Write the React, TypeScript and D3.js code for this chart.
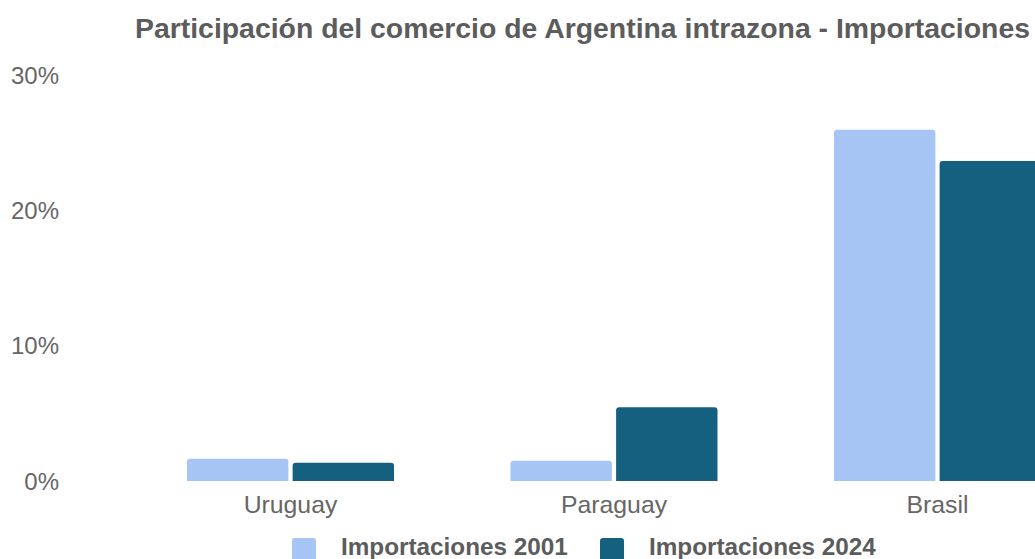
import React from "react";
import { scaleBand, scaleLinear } from "d3";

// valores (en %)
const categories = ["Uruguay", "Paraguay", "Brasil"];
const series = ["Importaciones 2001", "Importaciones 2024"];
const imports2001 = [1.65, 1.5, 25.95];
const imports2024 = [1.35, 5.45, 23.65];
const yTicks = [0, 10, 20, 30];
const colors = ["#a6c4f4", "#16607f"];

const W = 1168;
const H = 559;

function topRounded(x: number, y: number, w: number, h: number, r: number) {
  const rr = Math.min(r, h, w / 2);
  return `M${x},${y + h}V${y + rr}Q${x},${y} ${x + rr},${y}H${x + w - rr}Q${x + w},${y} ${x + w},${y + rr}V${y + h}Z`;
}

export default function App() {
  const values = [imports2001, imports2024];

  const yScale = scaleLinear().domain([0, 30]).range([481, 75]);

  const x0 = scaleBand().domain(categories).range([128.75, 1099.25]);

  const pad = 58.25;
  const x1 = scaleBand()
    .domain(series)
    .range([pad, x0.bandwidth() - pad])
    .paddingInner(0.04);

  return (
    <div style={{ position: "absolute", left: 0, top: 0, width: 1035, height: H, overflow: "hidden", background: "#fff" }}>
      <svg width={W} height={H} style={{ fontFamily: "'Liberation Sans', Arial, sans-serif" }}>
        <text x={582.5} y={38} textAnchor="middle" fontSize={28.4} fontWeight="bold" fill="#5c5c5c">
          Participación del comercio de Argentina intrazona - Importaciones
        </text>

        {/* eje y */}
        {yTicks.map((t) => (
          <text key={t} x={59} y={yScale(t)} dy="0.36em" textAnchor="end" fontSize={24} fill="#666">
            {t}%
          </text>
        ))}

        {/* barras */}
        {categories.map((c, i) => (
          <g key={c} transform={`translate(${x0(c)},0)`}>
            {series.map((s, j) => {
              const v = values[j][i];
              const y = yScale(v);
              return (
                <path
                  key={s}
                  d={topRounded(x1(s)!, y, x1.bandwidth(), yScale(0) - y, 3)}
                  fill={colors[j]}
                />
              );
            })}
            <text x={x0.bandwidth() / 2} y={513} textAnchor="middle" fontSize={24.8} fill="#666">
              {c}
            </text>
          </g>
        ))}

        {/* leyenda */}
        {series.map((s, j) => {
          const lx = j === 0 ? 292 : 600;
          return (
            <g key={s} transform={`translate(${lx},538)`}>
              <rect width={24} height={24} rx={3} fill={colors[j]} />
              <text x={49} y={17} fontSize={24.3} fontWeight="bold" fill="#5c5c5c">
                {s}
              </text>
            </g>
          );
        })}
      </svg>
    </div>
  );
}
